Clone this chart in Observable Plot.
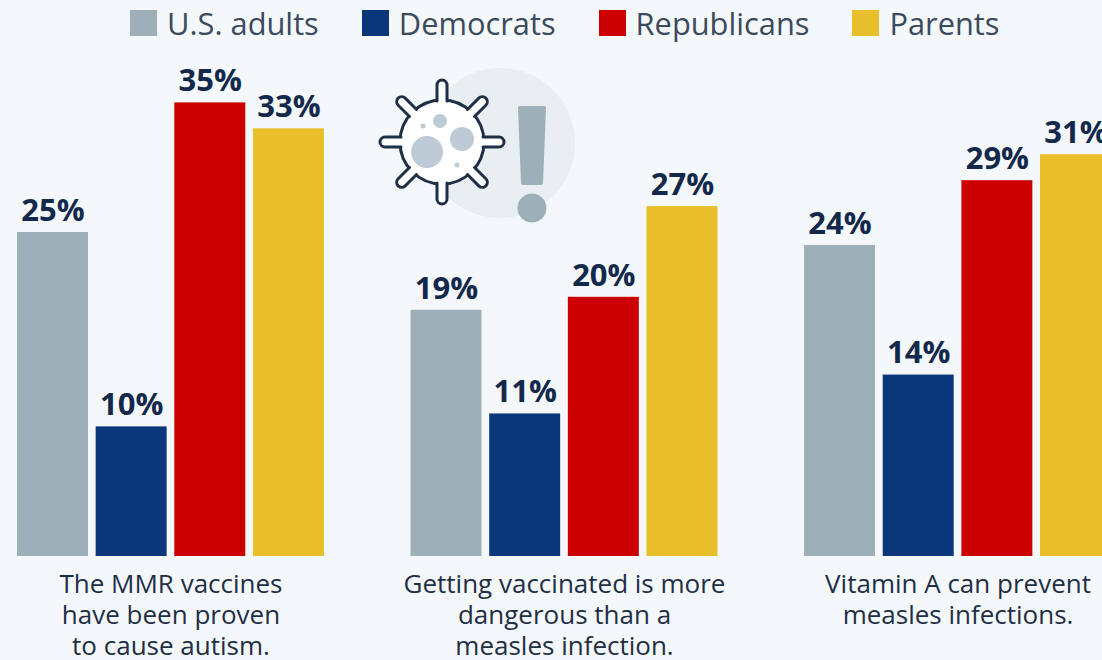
<!DOCTYPE html>
<html><head><meta charset="utf-8">
<script src="https://cdn.jsdelivr.net/npm/d3@7"></script>
<script src="https://cdn.jsdelivr.net/npm/@observablehq/plot@0.6"></script>
<style>
html,body{margin:0;padding:0;background:#f4f8fb;width:1102px;height:660px;overflow:hidden;font-family:"Open Sans",sans-serif}
#page{position:relative;width:1102px;height:660px;overflow:hidden}
#legend{height:46px;display:flex;padding-left:130px;gap:43px;align-items:center;box-sizing:border-box;color:#3b4a5c;font-size:30.8px;line-height:46px}
#legend .item{display:flex;align-items:center;gap:10px;white-space:nowrap}
#legend .sw{width:27px;height:26px;display:inline-block}
#chart svg{display:block;overflow:visible;background:transparent;max-width:none}
#icon{position:absolute;left:370px;top:60px}
</style></head>
<body><div id="page">
<div id="legend"></div>
<div id="chart"></div>
<svg id="icon" width="220" height="170" viewBox="370 60 220 170"></svg>
</div>
<script>
const groups = ["U.S. adults","Democrats","Republicans","Parents"];
const colors = ["#9db0b8","#0b3679","#cc0000","#e9bf2c"];
const statements = [
  "The MMR vaccines\nhave been proven\nto cause autism.",
  "Getting vaccinated is more\ndangerous than a\nmeasles infection.",
  "Vitamin A can prevent\nmeasles infections."
];
const mmrValues = [25,10,35,33];
const dangerValues = [19,11,20,27];
const vitaminValues = [24,14,29,31];
const seriesValues = [mmrValues,dangerValues,vitaminValues];

const rows = statements.flatMap((s,i)=>groups.map((g,j)=>({statement:s,group:g,value:seriesValues[i][j]})));

const legend = d3.select("#legend");
groups.forEach((g,i)=>{
  const it = legend.append("div").attr("class","item");
  it.append("span").attr("class","sw").style("background",colors[i]);
  it.append("span").text(g);
});

const chart = Plot.plot({
  width:1111, height:614,
  marginLeft:17, marginRight:0, marginTop:0, marginBottom:104,
  style:{background:"transparent",fontFamily:"'Open Sans',sans-serif",maxWidth:"none"},
  fx:{domain:statements,paddingInner:0.22,paddingOuter:0,round:false,label:null},
  x:{domain:groups,paddingInner:0.0975,paddingOuter:0,round:false,axis:null},
  y:{domain:[0,35],range:[510,56.4],axis:null},
  color:{domain:groups,range:colors},
  marks:[
    Plot.barY(rows,{fx:"statement",x:"group",y:"value",fill:"group"}),
    Plot.text(rows,{fx:"statement",x:"group",y:"value",text:d=>d.value+"%",dy:-21.5,
      fontSize:31,fontWeight:700,fill:"#13294b",stroke:"none"}),
    Plot.axisFx({domain:statements,anchor:"bottom",tickSize:0,tickPadding:15,label:null,
      fontSize:26,lineHeight:1.19,fill:"#1f2f45",lineAnchor:"top"})
  ]
});
document.getElementById("chart").appendChild(chart);

// decorative icon
const icon = d3.select("#icon");
icon.append("circle").attr("cx",500).attr("cy",143).attr("r",75).attr("fill","#e8eef1");
const v = icon.append("g").attr("transform","translate(442,142)");
const ink = "#1f2f45";
v.append("circle").attr("r",42).attr("fill","#fff").attr("stroke",ink).attr("stroke-width",3);
d3.range(8).forEach(i=>{
  const g = v.append("g").attr("transform",`rotate(${i*45})`);
  g.append("rect").attr("x",-4).attr("y",-45).attr("width",8).attr("height",8).attr("fill","#fff");
  g.append("path").attr("d","M-5,-41V-57A5,5 0 0 1 5,-57V-41").attr("fill","#fff").attr("stroke",ink).attr("stroke-width",3).attr("stroke-linecap","round");
});
[[-15,10,16],[20,-3,12],[-2,-21,7],[-19,-16,2.5],[15,23,2.5]].forEach(([x,y,r])=>
  v.append("circle").attr("cx",x).attr("cy",y).attr("r",r).attr("fill","#bccbd5"));
icon.append("path").attr("d","M518,108Q518,106 520,106H544Q546,106 546,108L543,183Q543,185 541,185H523Q521,185 521,183Z").attr("fill","#9db0b8");
icon.append("circle").attr("cx",532).attr("cy",208).attr("r",14.5).attr("fill","#9db0b8");
</script>
</body></html>
